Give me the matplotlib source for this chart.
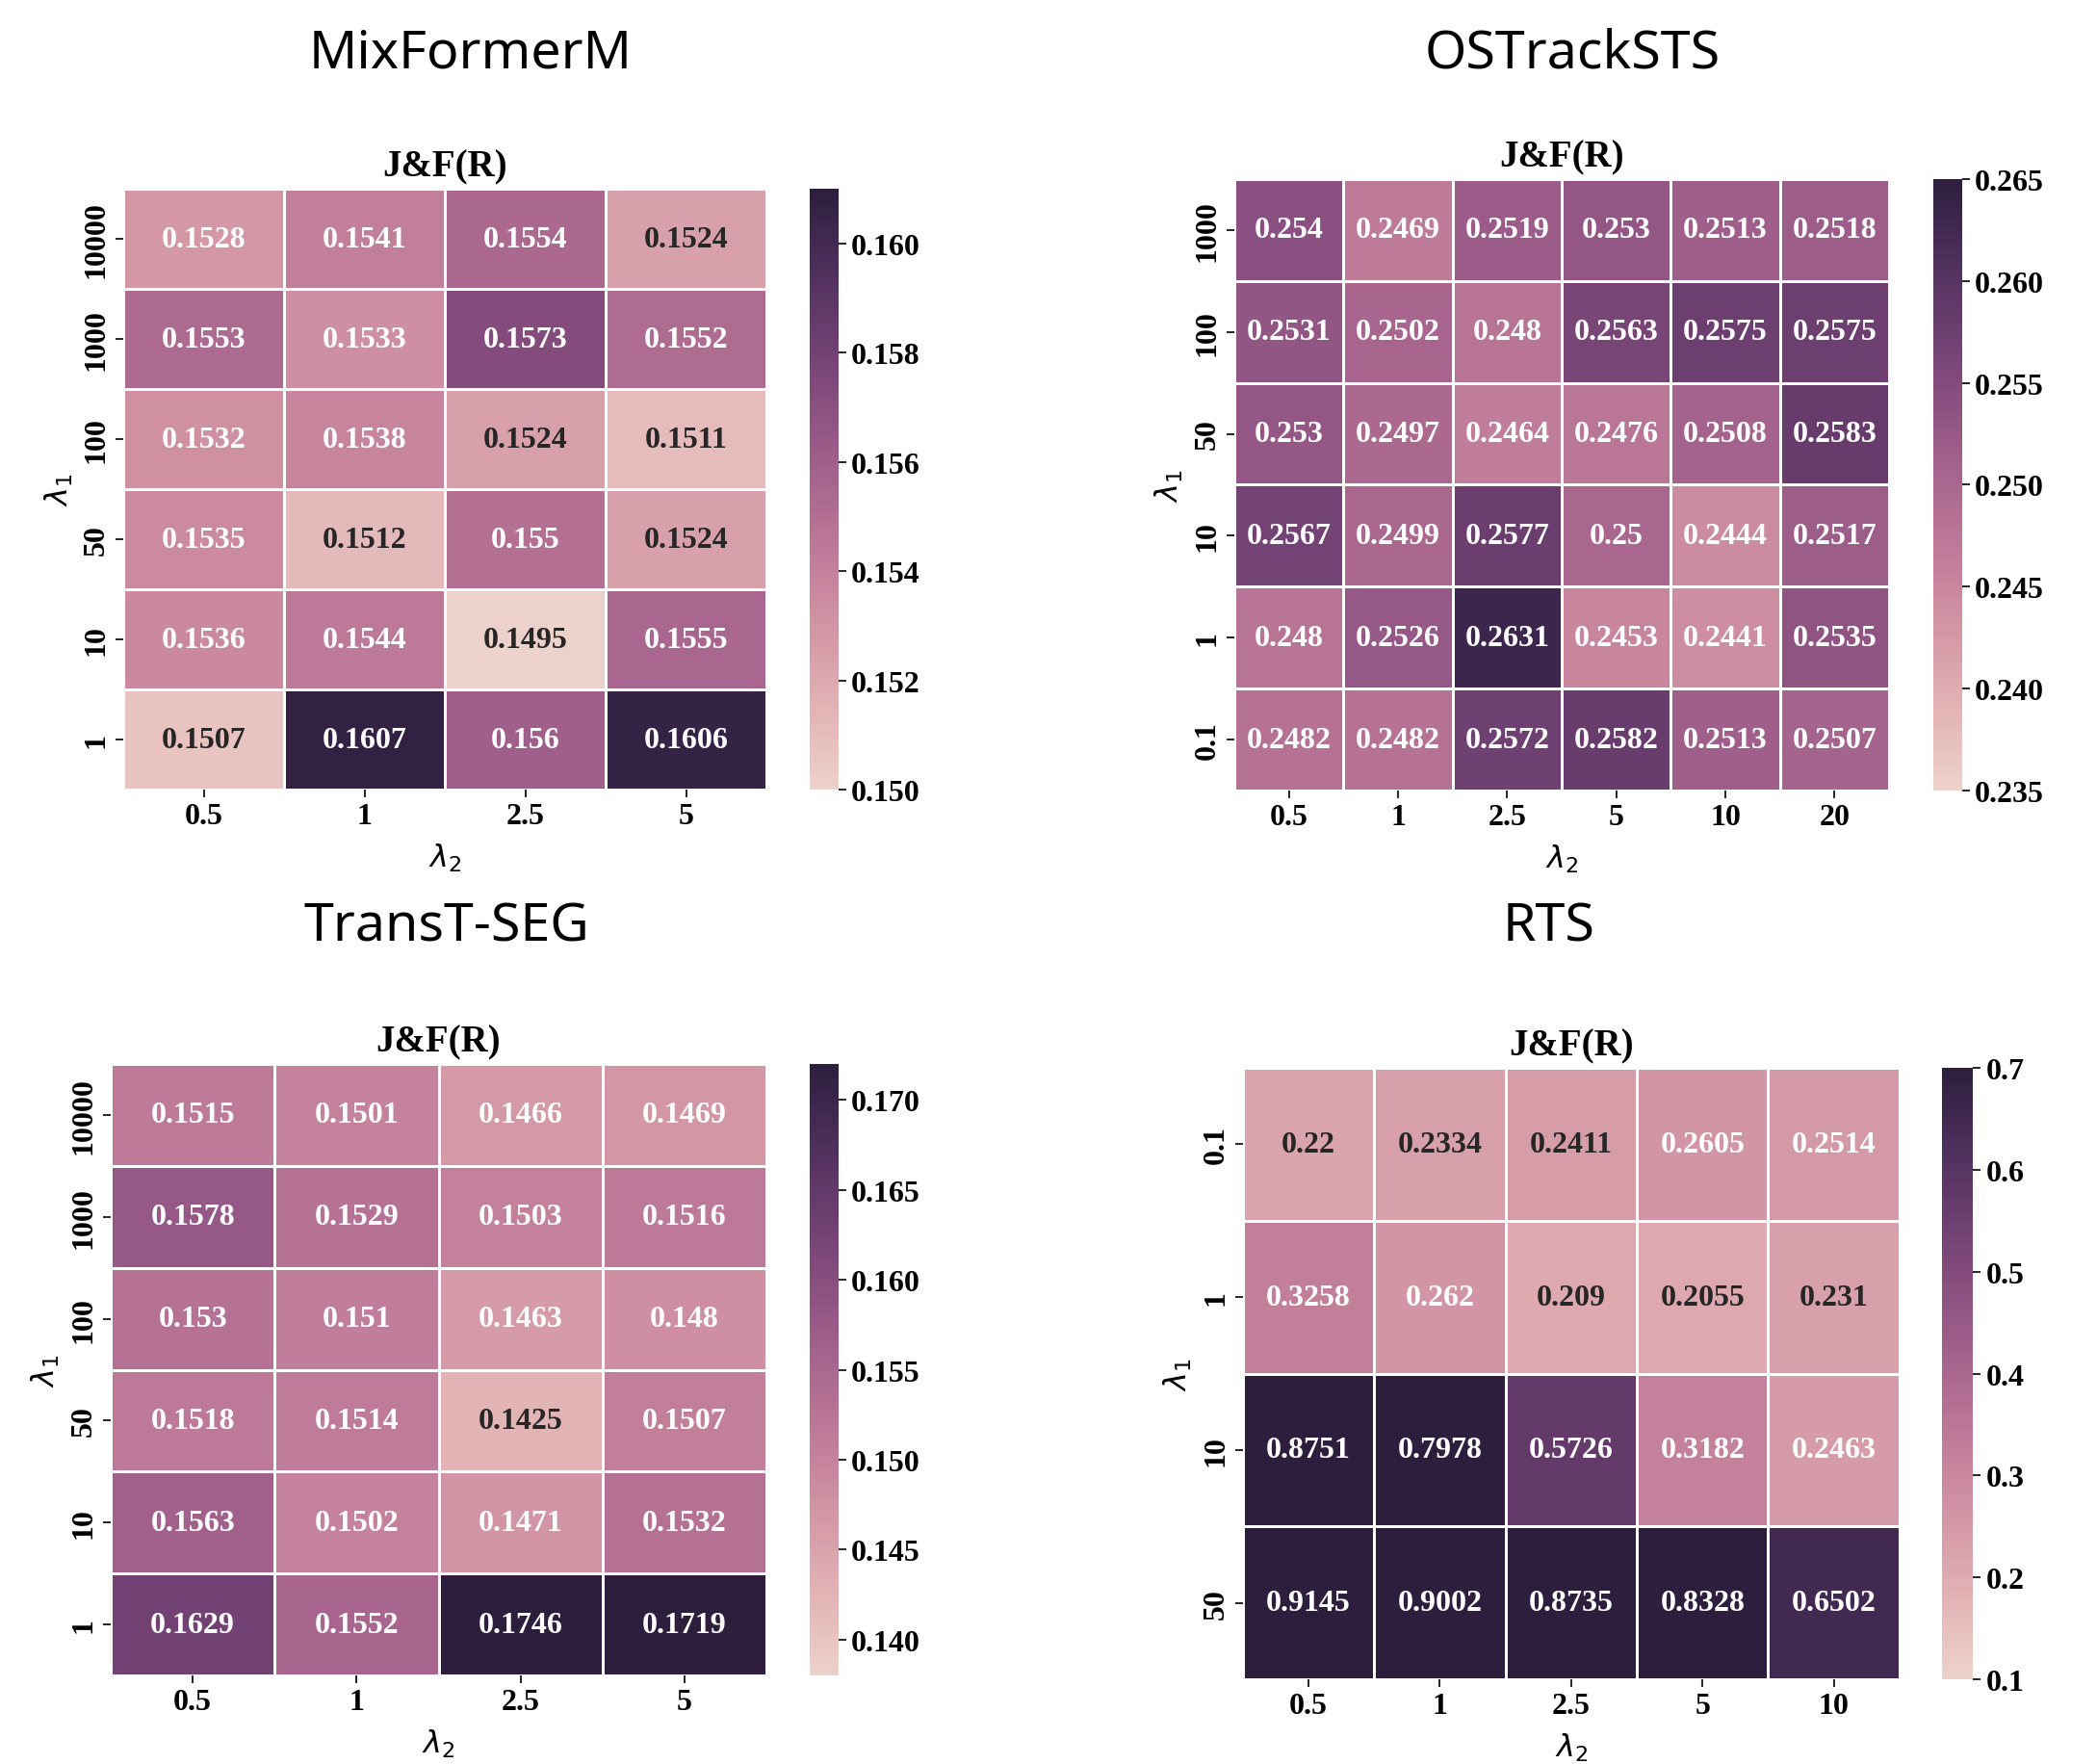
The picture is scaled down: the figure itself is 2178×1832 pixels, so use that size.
import numpy as np
import pandas as pd
import seaborn as sns
import matplotlib.pyplot as plt
from matplotlib.ticker import FormatStrFormatter

plt.rcParams['font.family'] = ['Liberation Serif', 'DejaVu Serif']
plt.rcParams['font.weight'] = 'bold'
plt.rcParams['axes.titleweight'] = 'bold'
# keep the lambda axis labels in a regular-weight italic
plt.rcParams['mathtext.fontset'] = 'custom'
plt.rcParams['mathtext.it'] = 'DejaVu Sans:italic:normal'
plt.rcParams['mathtext.rm'] = 'DejaVu Sans:normal'

# MixFormerM grid search (rows: lambda1, cols: lambda2)
mix_rows = ['10000', '1000', '100', '50', '10', '1']
mix_cols = ['0.5', '1', '2.5', '5']
mix_vals = [
    [0.1528, 0.1541, 0.1554, 0.1524],
    [0.1553, 0.1533, 0.1573, 0.1552],
    [0.1532, 0.1538, 0.1524, 0.1511],
    [0.1535, 0.1512, 0.155, 0.1524],
    [0.1536, 0.1544, 0.1495, 0.1555],
    [0.1507, 0.1607, 0.156, 0.1606],
]

# OSTrackSTS
ost_rows = ['1000', '100', '50', '10', '1', '0.1']
ost_cols = ['0.5', '1', '2.5', '5', '10', '20']
ost_vals = [
    [0.254, 0.2469, 0.2519, 0.253, 0.2513, 0.2518],
    [0.2531, 0.2502, 0.248, 0.2563, 0.2575, 0.2575],
    [0.253, 0.2497, 0.2464, 0.2476, 0.2508, 0.2583],
    [0.2567, 0.2499, 0.2577, 0.25, 0.2444, 0.2517],
    [0.248, 0.2526, 0.2631, 0.2453, 0.2441, 0.2535],
    [0.2482, 0.2482, 0.2572, 0.2582, 0.2513, 0.2507],
]

# TransT-SEG
tst_rows = ['10000', '1000', '100', '50', '10', '1']
tst_cols = ['0.5', '1', '2.5', '5']
tst_vals = [
    [0.1515, 0.1501, 0.1466, 0.1469],
    [0.1578, 0.1529, 0.1503, 0.1516],
    [0.153, 0.151, 0.1463, 0.148],
    [0.1518, 0.1514, 0.1425, 0.1507],
    [0.1563, 0.1502, 0.1471, 0.1532],
    [0.1629, 0.1552, 0.1746, 0.1719],
]

# RTS
rts_rows = ['0.1', '1', '10', '50']
rts_cols = ['0.5', '1', '2.5', '5', '10']
rts_vals = [
    [0.22, 0.2334, 0.2411, 0.2605, 0.2514],
    [0.3258, 0.262, 0.209, 0.2055, 0.231],
    [0.8751, 0.7978, 0.5726, 0.3182, 0.2463],
    [0.9145, 0.9002, 0.8735, 0.8328, 0.6502],
]

cmap = sns.cubehelix_palette(as_cmap=True)
FS = 23


def draw(ax, cax, vals, rows, cols, vmin, vmax, ticks, fmt):
    df = pd.DataFrame(vals, index=rows, columns=cols)
    sns.heatmap(df, ax=ax, cbar_ax=cax, cmap=cmap, vmin=vmin, vmax=vmax,
                annot=True, fmt='g', linewidths=1, linecolor='white',
                annot_kws={'fontsize': FS, 'fontweight': 'bold'})
    ax.set_title('J&F(R)', fontsize=28, fontweight='bold', pad=10)
    ax.set_xlabel(r'$\lambda_2$', fontsize=FS, labelpad=8)
    ax.set_ylabel(r'$\lambda_1$', fontsize=FS, labelpad=6)
    ax.tick_params(axis='both', labelsize=FS, length=6, width=1.2)
    plt.setp(ax.get_yticklabels(), rotation=90, va='center')
    plt.setp(ax.get_xticklabels(), rotation=0)
    cax.set_yticks(ticks)
    cax.yaxis.set_major_formatter(FormatStrFormatter(fmt))
    cax.tick_params(labelsize=FS, length=6, width=1.2)


fig = plt.figure(figsize=(21.78, 18.33), dpi=100)

ax1 = fig.add_axes([0.0588, 0.5521, 0.3067, 0.3404])
cb1 = fig.add_axes([0.3861, 0.5521, 0.0138, 0.3404])
ax2 = fig.add_axes([0.5886, 0.5516, 0.3122, 0.3464])
cb2 = fig.add_axes([0.9219, 0.5516, 0.0138, 0.3464])
ax3 = fig.add_axes([0.0528, 0.0502, 0.3127, 0.3464])
cb3 = fig.add_axes([0.3861, 0.0502, 0.0138, 0.3464])
ax4 = fig.add_axes([0.5927, 0.0480, 0.3131, 0.3464])
cb4 = fig.add_axes([0.9261, 0.0480, 0.0147, 0.3464])

draw(ax1, cb1, mix_vals, mix_rows, mix_cols, 0.150, 0.161,
     np.arange(0.150, 0.1605, 0.002), '%.3f')
draw(ax2, cb2, ost_vals, ost_rows, ost_cols, 0.235, 0.265,
     np.arange(0.235, 0.2655, 0.005), '%.3f')
draw(ax3, cb3, tst_vals, tst_rows, tst_cols, 0.138, 0.172,
     np.arange(0.140, 0.1705, 0.005), '%.3f')
draw(ax4, cb4, rts_vals, rts_rows, rts_cols, 0.1, 0.7,
     np.arange(0.1, 0.705, 0.1), '%.1f')

title_kw = dict(fontsize=40, family='Noto Sans', fontweight='normal',
                ha='center', va='center')
fig.text(0.2245, 0.9694, 'MixFormerM', **title_kw)
fig.text(0.7498, 0.9694, 'OSTrackSTS', **title_kw)
fig.text(0.2130, 0.4746, 'TransT-SEG', **title_kw)
fig.text(0.7387, 0.4746, 'RTS', **title_kw)

fig.savefig('out.png', dpi=100)
